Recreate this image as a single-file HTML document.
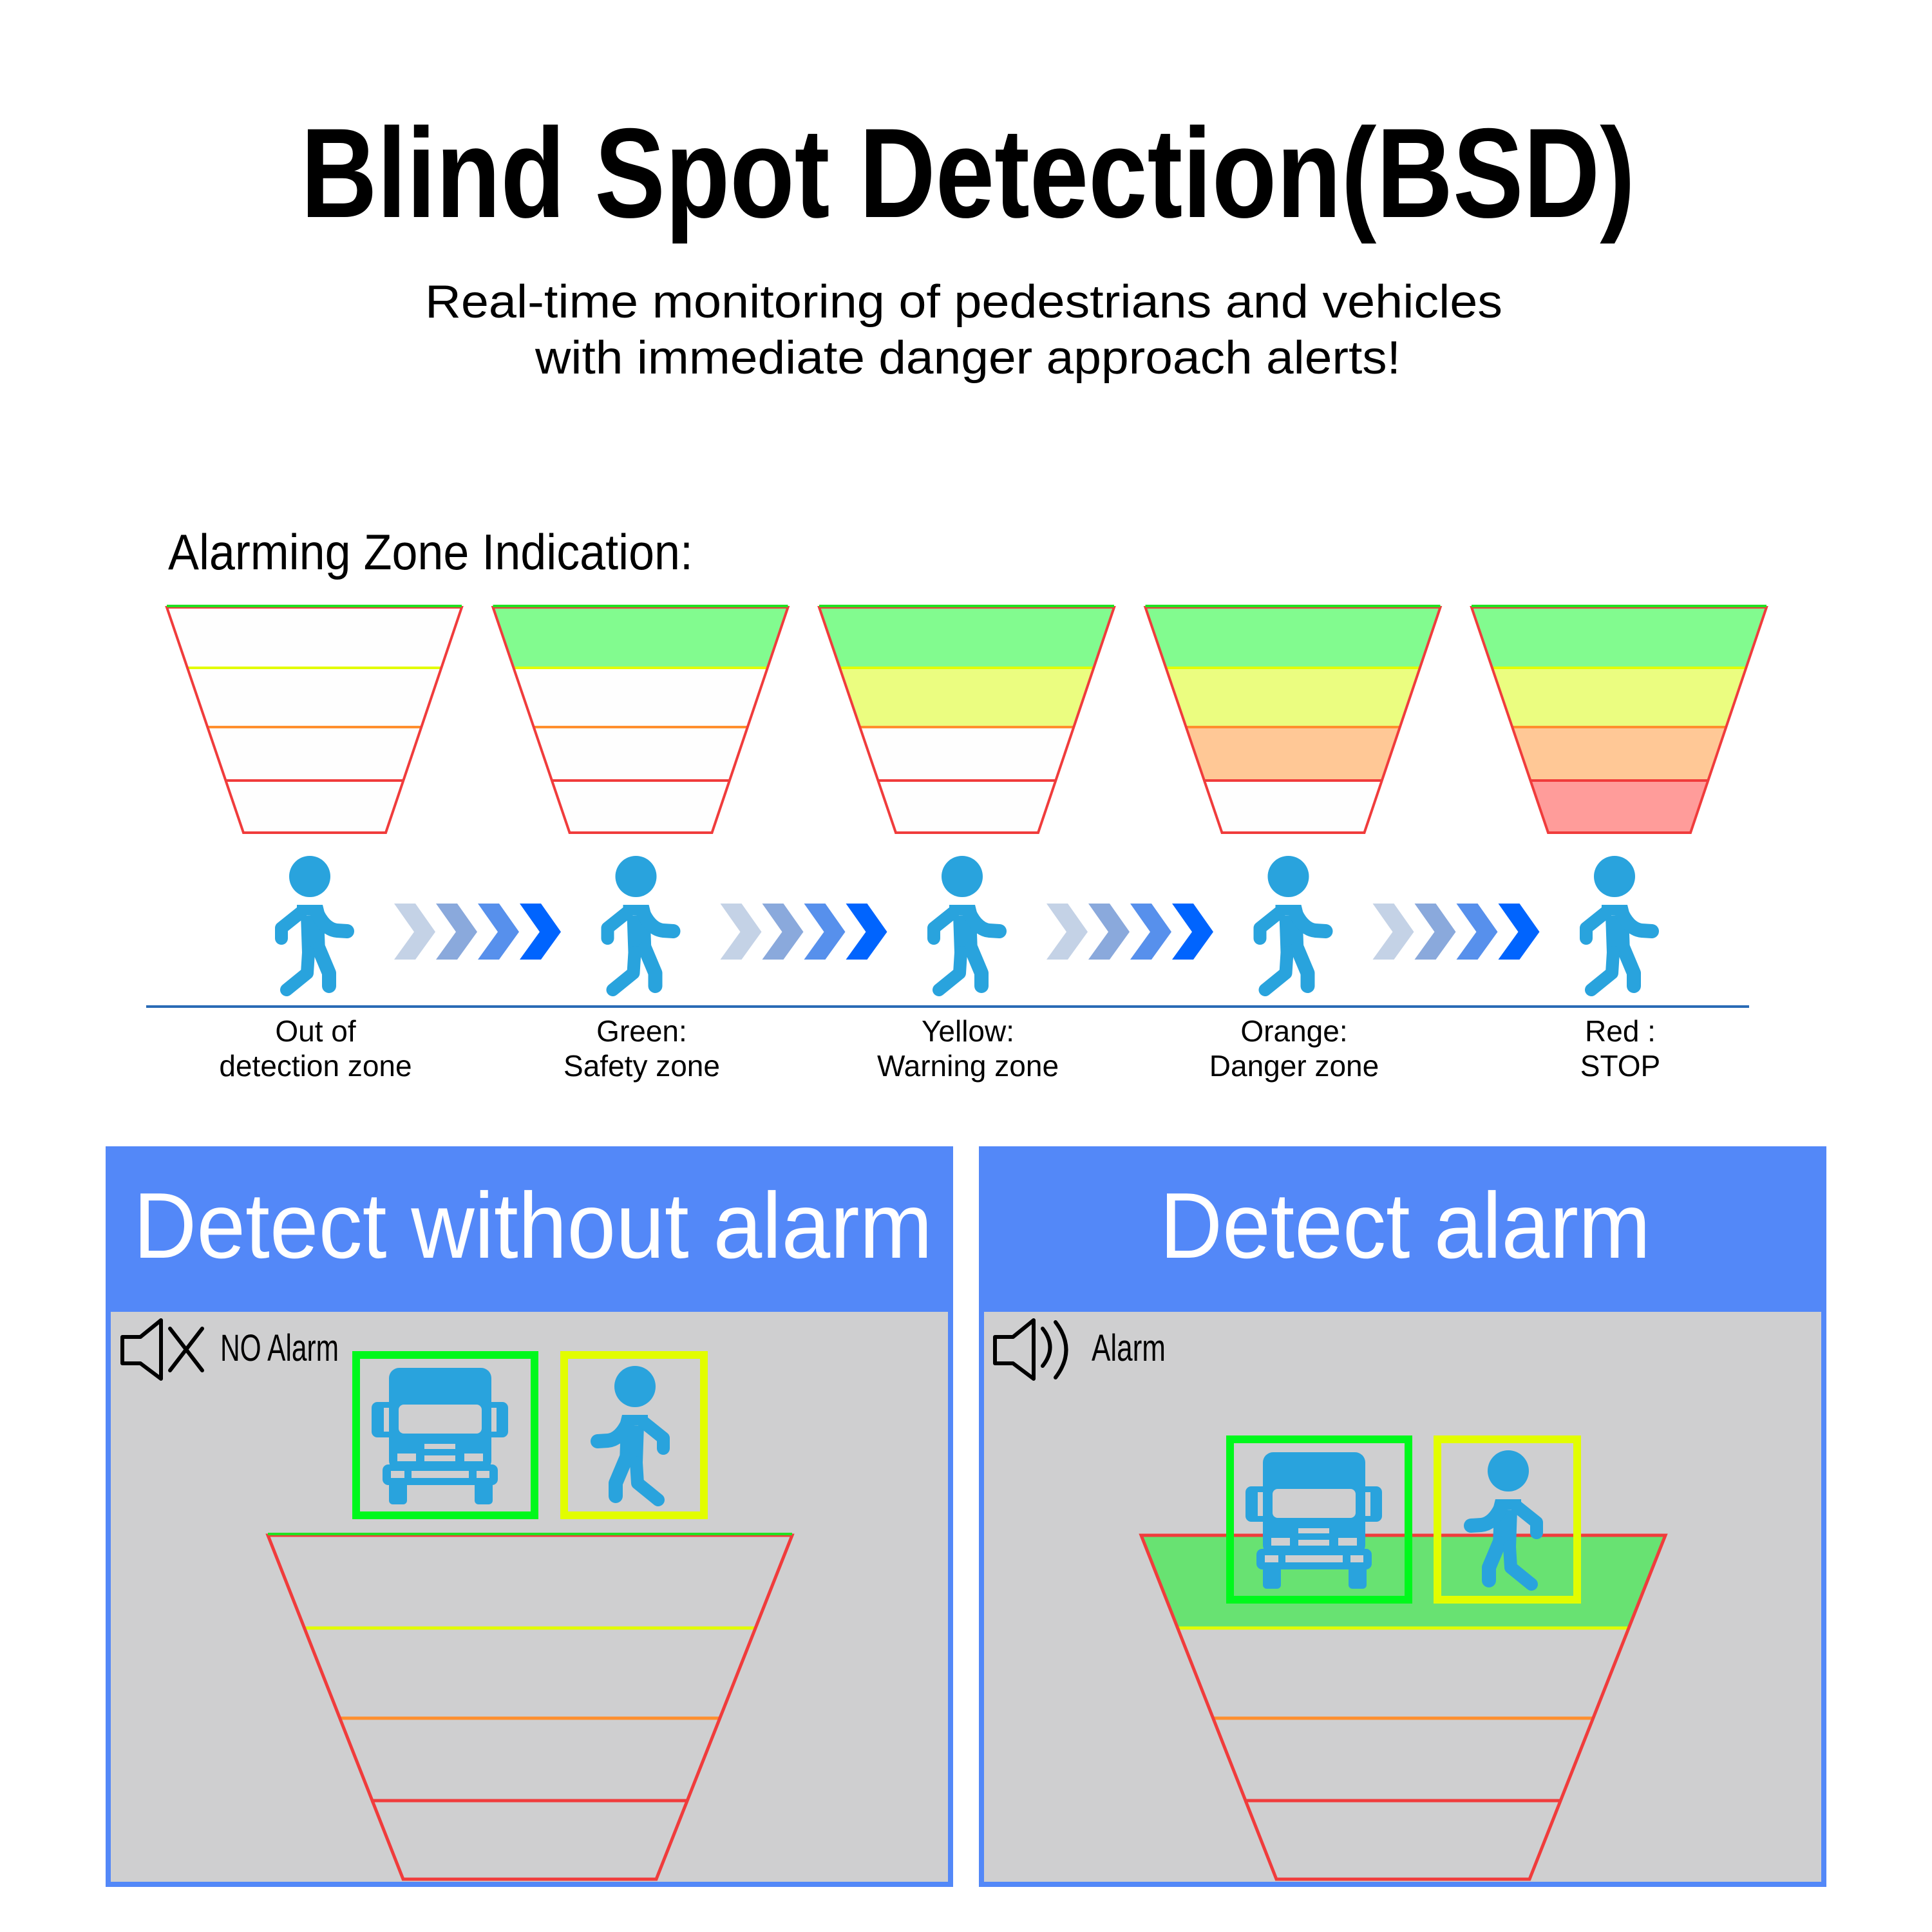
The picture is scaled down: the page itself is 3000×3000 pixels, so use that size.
<!DOCTYPE html>
<html><head><meta charset="utf-8"><style>html,body{margin:0;padding:0;background:#fff}svg{display:block}</style></head>
<body>
<svg width="3000" height="3000" viewBox="0 0 3000 3000" xmlns="http://www.w3.org/2000/svg" font-family="Liberation Sans, sans-serif">
<defs>
  <g id="person">
    <circle cx="0" cy="0" r="32" fill="#29a3dd"/>
    <g fill="none" stroke="#29a3dd" stroke-linecap="round" stroke-linejoin="round">
      <path d="M -4 60 L -6 118" stroke-width="36" stroke-linecap="butt"/>
      <path d="M 14 56 L 44 80 L 44 96" stroke-width="20"/>
      <path d="M -12 58 Q -24 82 -42 84 L -58 85" stroke-width="22"/>
      <path d="M -14 112 L -30 150 L -30 170" stroke-width="22"/>
      <path d="M 2 118 L 4 150 L 36 176" stroke-width="20"/>
    </g>
    <path d="M -20 44 L 20 44 L 20 60 L -24 60 Z" fill="#29a3dd"/>
  </g>
  <g id="truck">
    <rect x="27" y="0" width="159" height="160" rx="16" fill="#29a3dd"/>
    <rect x="0" y="53" width="212" height="55" rx="9" fill="#29a3dd"/>
    <rect x="19" y="62" width="8" height="37" fill="#cfcfd0"/>
    <rect x="186" y="62" width="8" height="37" fill="#cfcfd0"/>
    <rect x="42" y="57" width="129" height="45" rx="8" fill="#cfcfd0"/>
    <rect x="82" y="118" width="48" height="8" fill="#cfcfd0"/>
    <rect x="82" y="136" width="48" height="9" fill="#cfcfd0"/>
    <rect x="40" y="133" width="29" height="12" fill="#cfcfd0"/>
    <rect x="144" y="133" width="29" height="12" fill="#cfcfd0"/>
    <rect x="17" y="150" width="179" height="32" rx="9" fill="#29a3dd"/>
    <rect x="30" y="160" width="21" height="11" fill="#cfcfd0"/>
    <rect x="62" y="160" width="89" height="11" fill="#cfcfd0"/>
    <rect x="163" y="160" width="20" height="11" fill="#cfcfd0"/>
    <rect x="27" y="175" width="28" height="37" rx="6" fill="#29a3dd"/>
    <rect x="160" y="175" width="28" height="37" rx="6" fill="#29a3dd"/>
  </g>
  <polygon id="chev" points="0,0 33,0 64,44 33,87 0,87 31,44"/>
  <g id="lines">
    <line x1="291" y1="1037" x2="685" y2="1037" stroke="#e2fc00" stroke-width="4"/>
    <line x1="322" y1="1129" x2="654" y2="1129" stroke="#ff8f2e" stroke-width="4"/>
    <line x1="350" y1="1212" x2="626" y2="1212" stroke="#f03c3c" stroke-width="4"/>
    <polygon points="259,943 717,943 599,1293 378,1293" fill="none" stroke="#f03c3c" stroke-width="4"/>
    <line x1="259" y1="941" x2="717" y2="941" stroke="#22e022" stroke-width="4"/>
  </g>
  <polygon id="base" points="259,943 717,943 599,1293 378,1293" fill="#fefefe"/>
  <polygon id="b0" points="259,943 717,943 685,1037 291,1037" fill="#82fb8f"/>
  <polygon id="b1" points="291,1037 685,1037 654,1129 322,1129" fill="#ebfd80"/>
  <polygon id="b2" points="322,1129 654,1129 626,1212 350,1212" fill="#ffc896"/>
  <polygon id="b3" points="350,1212 626,1212 599,1293 378,1293" fill="#ff9c9a"/>
  <g id="chevs"><use href="#chev" fill="#c4d2e6"/><use href="#chev" x="65" fill="#8aa9dc"/><use href="#chev" x="130" fill="#5790ec"/><use href="#chev" x="195" fill="#0064fe"/></g>
</defs>

<text x="467" y="337" font-size="198" font-weight="bold" textLength="2072" lengthAdjust="spacingAndGlyphs">Blind Spot Detection(BSD)</text>
<text x="660" y="493" font-size="72" textLength="1673" lengthAdjust="spacingAndGlyphs">Real-time monitoring of pedestrians and vehicles</text>
<text x="831" y="580" font-size="72" textLength="1344" lengthAdjust="spacingAndGlyphs">with immediate danger approach alerts!</text>

<text x="261" y="884" font-size="78" textLength="815" lengthAdjust="spacingAndGlyphs">Alarming Zone Indication:</text>

<g><use href="#base"/><use href="#lines"/></g>
<g transform="translate(506.5,0)"><use href="#base"/><use href="#b0"/><use href="#lines"/></g>
<g transform="translate(1013,0)"><use href="#base"/><use href="#b0"/><use href="#b1"/><use href="#lines"/></g>
<g transform="translate(1519.5,0)"><use href="#base"/><use href="#b0"/><use href="#b1"/><use href="#b2"/><use href="#lines"/></g>
<g transform="translate(2026,0)"><use href="#base"/><use href="#b0"/><use href="#b1"/><use href="#b2"/><use href="#b3"/><use href="#lines"/></g>

<use href="#person" transform="translate(481,1361) scale(-1,1)"/>
<use href="#person" transform="translate(987.5,1361) scale(-1,1)"/>
<use href="#person" transform="translate(1494,1361) scale(-1,1)"/>
<use href="#person" transform="translate(2000.5,1361) scale(-1,1)"/>
<use href="#person" transform="translate(2507,1361) scale(-1,1)"/>

<use href="#chevs" transform="translate(612,1403)"/>
<use href="#chevs" transform="translate(1118.5,1403)"/>
<use href="#chevs" transform="translate(1625,1403)"/>
<use href="#chevs" transform="translate(2131.5,1403)"/>

<line x1="227" y1="1563" x2="2716" y2="1563" stroke="#2a6bb5" stroke-width="4"/>

<g font-size="46" text-anchor="middle" fill="#000">
  <text x="490" y="1617">Out of</text><text x="490" y="1671">detection zone</text>
  <text x="996.5" y="1617">Green:</text><text x="996.5" y="1671">Safety zone</text>
  <text x="1503" y="1617">Yellow:</text><text x="1503" y="1671">Warning zone</text>
  <text x="2009.5" y="1617">Orange:</text><text x="2009.5" y="1671">Danger zone</text>
  <text x="2516" y="1617">Red :</text><text x="2516" y="1671">STOP</text>
</g>

<!-- Panel 1 -->
<rect x="164" y="1780" width="1316" height="1150" fill="#5388f8"/>
<rect x="172" y="2037" width="1300" height="885" fill="#cfcfd0"/>
<text x="207" y="1953" font-size="145" fill="#fff" textLength="1241" lengthAdjust="spacingAndGlyphs">Detect without alarm</text>
<g fill="none" stroke="#000" stroke-width="6" stroke-linejoin="round" stroke-linecap="round">
  <path d="M 190 2076 L 218 2076 L 250 2050 L 250 2141 L 218 2117 L 190 2117 Z"/>
  <path d="M 264 2063 L 314 2128 M 314 2063 L 264 2128"/>
</g>
<text x="342" y="2113" font-size="58" textLength="184" lengthAdjust="spacingAndGlyphs">NO Alarm</text>
<use href="#truck" transform="translate(577,2124)"/>
<rect x="553" y="2104" width="277" height="249" fill="none" stroke="#00f81c" stroke-width="12"/>
<use href="#person" transform="translate(986,2153)"/>
<rect x="876" y="2104" width="217" height="249" fill="none" stroke="#e2fd00" stroke-width="12"/>
<line x1="471" y1="2528" x2="1173" y2="2528" stroke="#e2fc00" stroke-width="5"/>
<line x1="526" y1="2668" x2="1118" y2="2668" stroke="#ff8f2e" stroke-width="5"/>
<line x1="576" y1="2796" x2="1068" y2="2796" stroke="#f03c3c" stroke-width="5"/>
<polygon points="416,2384 1230,2384 1019,2918 626,2918" fill="none" stroke="#f03c3c" stroke-width="5"/>
<line x1="416" y1="2382" x2="1230" y2="2382" stroke="#22e022" stroke-width="4"/>

<!-- Panel 2 -->
<rect x="1520" y="1780" width="1316" height="1150" fill="#5388f8"/>
<rect x="1528" y="2037" width="1300" height="885" fill="#cfcfd0"/>
<text x="1801" y="1953" font-size="145" fill="#fff" textLength="762" lengthAdjust="spacingAndGlyphs">Detect alarm</text>
<g fill="none" stroke="#000" stroke-width="6" stroke-linejoin="round" stroke-linecap="round">
  <path d="M 1545 2076 L 1573 2076 L 1605 2050 L 1605 2141 L 1573 2117 L 1545 2117 Z"/>
  <path d="M 1619 2063 Q 1642 2092 1619 2121"/>
  <path d="M 1639 2053 Q 1672 2096 1639 2139"/>
</g>
<text x="1695" y="2113" font-size="58" textLength="115" lengthAdjust="spacingAndGlyphs">Alarm</text>
<polygon points="1772,2384 2586,2384 2529,2528 1827,2528" fill="#68e272"/>
<line x1="1827" y1="2528" x2="2529" y2="2528" stroke="#e2fc00" stroke-width="5"/>
<line x1="1882" y1="2668" x2="2474" y2="2668" stroke="#ff8f2e" stroke-width="5"/>
<line x1="1932" y1="2796" x2="2424" y2="2796" stroke="#f03c3c" stroke-width="5"/>
<polygon points="1772,2384 2586,2384 2375,2918 1982,2918" fill="none" stroke="#f03c3c" stroke-width="5"/>
<use href="#truck" transform="translate(1934,2255)"/>
<rect x="1910" y="2235" width="277" height="249" fill="none" stroke="#00f81c" stroke-width="12"/>
<use href="#person" transform="translate(2342,2284)"/>
<rect x="2232" y="2235" width="217" height="249" fill="none" stroke="#e2fd00" stroke-width="12"/>
</svg>
</body></html>
